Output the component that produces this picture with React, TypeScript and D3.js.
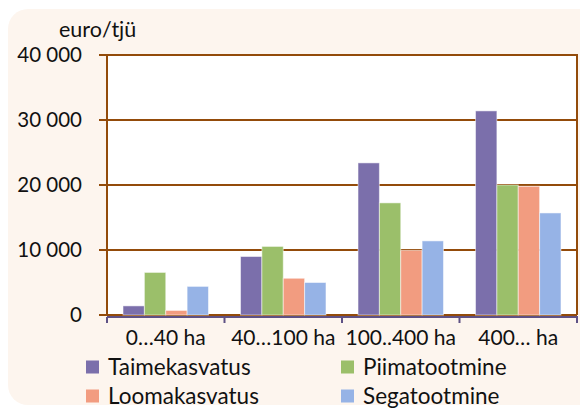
import * as d3 from "d3";

// Farm size groups and the four production types (euro per work unit)
const categories = ["0…40 ha", "40…100 ha", "100..400 ha", "400… ha"];
const seriesNames = ["Taimekasvatus", "Piimatootmine", "Loomakasvatus", "Segatootmine"];
const taimekasvatus = [1400, 9000, 23400, 31400];
const piimatootmine = [6550, 10550, 17250, 20000];
const loomakasvatus = [700, 5650, 9950, 19800];
const segatootmine = [4400, 5000, 11400, 15700];
const yTicks = [0, 10000, 20000, 30000, 40000];

const seriesValues = [taimekasvatus, piimatootmine, loomakasvatus, segatootmine];
const colors = ["#7b6fab", "#9bbf6a", "#f29c80", "#96b3e6"];

const W = 580;
const H = 409;
const FONT = "Lato, 'Open Sans', sans-serif";
const BROWN = "#934b0a";

const fmt = d3.formatLocale({
  decimal: ",",
  thousands: " ",
  grouping: [3],
  currency: ["", ""],
}).format(",d");

const App = () => {
  const left = 107;
  const right = 577;
  const top = 55;
  const bottom = 315;

  const y = d3.scaleLinear().domain([0, 40000]).range([bottom, top]);
  const x0 = d3.scaleBand().domain(categories).range([left, right]).padding(0);
  const x1 = d3
    .scaleBand<number>()
    .domain(d3.range(seriesNames.length))
    .range([0, x0.bandwidth()])
    .paddingInner(0)
    .paddingOuter(0.75);

  // legend layout: 2 columns x 2 rows
  const legendCols = [86, 341];
  const legendRows = [367, 396];

  return (
    <svg
      width={W}
      height={H}
      style={{ position: "absolute", left: 0, top: 0, fontFamily: FONT }}
    >
      {/* panel */}
      <rect x={8} y={9} width={W + 20} height={396} rx={20} fill="#fdf5ee" />
      <rect x={left} y={top} width={right - left} height={bottom - top} fill="#ffffff" />

      {/* gridlines + y labels */}
      {yTicks.map((t) => (
        <g key={t}>
          <line x1={99} x2={right} y1={y(t)} y2={y(t)} stroke={BROWN} strokeWidth={2} />
          <text
            x={82}
            y={y(t)}
            dy="0.35em"
            textAnchor="end"
            fontSize={20.5}
            fill="#111"
          >
            {fmt(t)}
          </text>
        </g>
      ))}

      {/* bars */}
      {categories.map((c, ci) => (
        <g key={c} transform={`translate(${x0(c)},0)`}>
          {seriesValues.map((vals, si) => (
            <rect
              key={si}
              x={x1(si)}
              y={y(vals[ci])}
              width={x1.bandwidth()}
              height={y(0) - y(vals[ci])}
              fill={colors[si]}
              stroke="#ffffff"
              strokeOpacity={0.5}
              strokeWidth={1}
            />
          ))}
        </g>
      ))}

      {/* axes */}
      <line x1={left} x2={left} y1={top - 1} y2={bottom} stroke={BROWN} strokeWidth={2} />
      <line x1={right} x2={right} y1={top - 1} y2={bottom} stroke={BROWN} strokeWidth={2} />
      <line x1={left} x2={right + 1} y1={bottom + 2} y2={bottom + 2} stroke="#5e5185" strokeWidth={2} />
      {categories.concat([""]).map((c, i) => {
        const xx = i < categories.length ? (x0(c) as number) : right;
        return (
          <line key={i} x1={xx} x2={xx} y1={bottom + 2} y2={bottom + 8} stroke="#5e5185" strokeWidth={2} />
        );
      })}

      {/* category labels */}
      {categories.map((c) => (
        <text
          key={c}
          x={(x0(c) as number) + x0.bandwidth() / 2}
          y={338}
          dy="0.35em"
          textAnchor="middle"
          fontSize={21}
          fill="#111"
        >
          {c}
        </text>
      ))}

      {/* unit */}
      <text x={59} y={37} fontSize={21.5} fill="#111">
        euro/tjü
      </text>

      {/* legend */}
      {seriesNames.map((s, i) => {
        const lx = legendCols[i % 2];
        const ly = legendRows[Math.floor(i / 2)];
        return (
          <g key={s} transform={`translate(${lx},${ly})`}>
            <rect x={0} y={-6.5} width={13} height={13} fill={colors[i]} />
            <text x={22} y={0} dy="0.35em" fontSize={22.5} fill="#111">
              {s}
            </text>
          </g>
        );
      })}
    </svg>
  );
};

export default App;
